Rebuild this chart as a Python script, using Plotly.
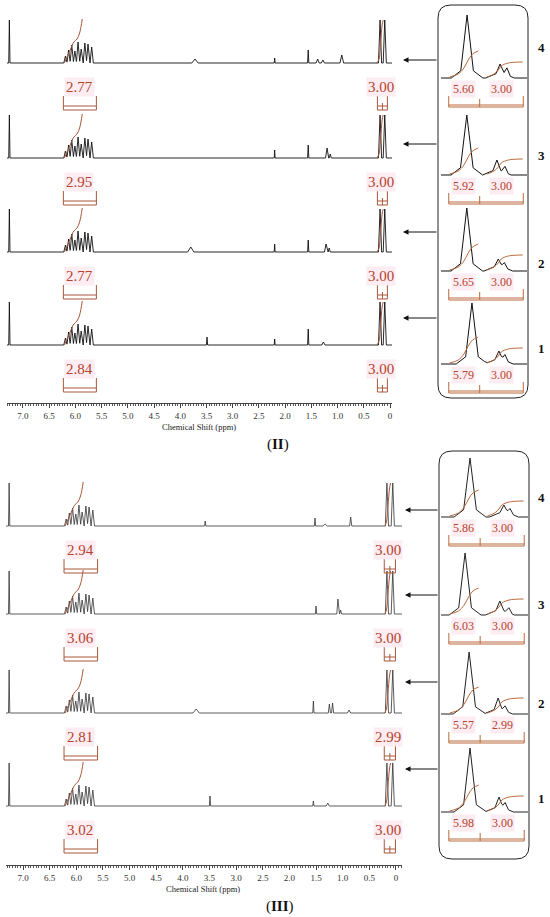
import plotly.graph_objects as go

W, H = 550, 917

# ---------------- data ----------------
tick_vals = [7.0, 6.5, 6.0, 5.5, 5.0, 4.5, 4.0, 3.5, 3.0, 2.5, 2.0, 1.5, 1.0, 0.5, 0.0]
tick_text = ['7.0', '6.5', '6.0', '5.5', '5.0', '4.5', '4.0', '3.5', '3.0', '2.5', '2.0', '1.5', '1.0', '0.5', '0']

spectrum_ids = ['1', '2', '3', '4']

# CDCl3 residual peak
solvent_ppm = 7.26
solvent_h = 43

# vinyl multiplet (6.2 - 5.65 ppm)
vinyl_ppm = [6.19, 6.13, 6.07, 6.01, 5.95, 5.89, 5.82, 5.76, 5.69]
vinyl_h = [7, 13, 18, 12, 21, 14, 20, 19, 16]

# Si-CH3 pair near 0 ppm
sime_ppm_II = [0.19, 0.10]
sime_ppm_III = [0.17, 0.06]
sime_h = 43

# other small peaks, spectra 1..4 (ppm, height, half width)
minor_II = [
    [(3.49, 8, 0.012), (2.20, 6, 0.008), (1.56, 16, 0.012), (1.27, 3, 0.03)],
    [(3.80, 5, 0.06), (2.20, 8, 0.008), (1.56, 12, 0.012), (1.22, 8, 0.03), (1.16, 4, 0.02)],
    [(2.20, 8, 0.008), (1.56, 13, 0.012), (1.20, 10, 0.03), (1.14, 4, 0.02)],
    [(3.72, 4, 0.06), (2.20, 5, 0.008), (1.56, 13, 0.012), (1.38, 4, 0.03), (1.28, 3, 0.03), (0.92, 8, 0.035)],
]
minor_III = [
    [(3.49, 10, 0.012), (1.55, 5, 0.012), (1.28, 3, 0.03)],
    [(3.75, 4, 0.06), (1.55, 12, 0.012), (1.25, 9, 0.02), (1.19, 10, 0.02), (0.88, 3, 0.03)],
    [(1.50, 8, 0.012), (1.09, 15, 0.02), (1.04, 4, 0.02)],
    [(3.58, 5, 0.012), (1.52, 8, 0.012), (1.33, 2, 0.04), (0.85, 9, 0.02)],
]

# main integrals
vinyl_int_II = ['2.84', '2.77', '2.95', '2.77']
sime_int_II = ['3.00', '3.00', '3.00', '3.00']
vinyl_int_III = ['3.02', '2.81', '3.06', '2.94']
sime_int_III = ['3.00', '2.99', '3.00', '3.00']

# integral curves (ppm, rise)
vinyl_curve_ppm = [6.21, 6.10, 6.03, 5.97, 5.92, 5.87]
vinyl_curve_h = [0, 13, 21, 24, 30, 44]
sime_curve_ppm_II = [0.25, 0.21, 0.18, 0.15, 0.13]
sime_curve_ppm_III = [0.21, 0.18, 0.15, 0.12, 0.10]
sime_curve_h = [0, 4, 20, 38, 43]

# expanded insets (0.30 - 0 ppm), spectra 1..4
inset_main_ppm_II = [0.192, 0.21, 0.21, 0.209]
inset_main_h_II = [61, 63, 60, 63]
inset_sec_ppm_II = [0.098, 0.100, 0.105, 0.094]
inset_sec_h_II = [13, 12, 15, 14]
inset_sh_ppm_II = [0.077, 0.079, 0.077, 0.070]
inset_sh_h_II = [6, 5, 6, 7]

inset_main_ppm_III = [0.200, 0.203, 0.217, 0.200]
inset_main_h_III = [64, 62, 62, 59]
inset_sec_ppm_III = [0.100, 0.103, 0.097, 0.083]
inset_sec_h_III = [15, 16, 14, 12]
inset_sh_ppm_III = [0.079, 0.079, 0.066, 0.062]
inset_sh_h_III = [6, 5, 5, 5]

inset_int_main_II = ['5.79', '5.65', '5.92', '5.60']
inset_int_sec_II = ['3.00', '3.00', '3.00', '3.00']
inset_int_main_III = ['5.98', '5.57', '6.03', '5.86']
inset_int_sec_III = ['3.00', '2.99', '3.00', '3.00']

inset_curve1_ppm = [0.27, 0.24, 0.22, 0.205, 0.19, 0.17]
inset_curve1_h = [0, 3, 9, 17, 23, 26]
inset_curve2_ppm = [0.14, 0.115, 0.10, 0.09, 0.065, 0.015]
inset_curve2_h = [0, 3, 7, 11, 14, 15]

# ---------------- layout positions (px) ----------------
base_II = [345, 252, 158, 63]
base_III = [806, 713, 614, 526]
inset_base_II = [364, 271, 175, 78]
inset_base_III = [812, 714, 615, 517]
arrow_y_II = [318, 232, 144, 60]
arrow_y_III = [769, 682, 595, 510]
num_y_II = [348, 263, 155, 47]
num_y_III = [798, 703, 604, 497]

SERIF = 'Liberation Serif'
RED = '#b4442c'
BROWN = '#a9573a'
ORANGE = '#bb6a3c'
PINK = 'rgba(252,228,237,0.7)'


def px_x(x):
    return x / W


def px_y(y):
    return 1 - y / H


def tri_spectrum(lo, hi, peaks):
    xs = {lo, hi}
    for p, h, w in peaks:
        for v in (p - w, p, p + w):
            if lo <= v <= hi:
                xs.add(v)
    xs = sorted(xs, reverse=True)
    ys = [sum(h * max(0.0, 1 - abs(x - p) / w) for p, h, w in peaks) for x in xs]
    return xs, ys


fig = go.Figure()
annots = []
shapes = []


def label(x, y, text, size, color, xref='paper', yref='paper', bg=None):
    d = dict(x=x, y=y, xref=xref, yref=yref, text=text, showarrow=False,
             xanchor='center', yanchor='middle', font=dict(family=SERIF, size=size, color=color))
    if bg:
        d['bgcolor'] = bg
    annots.append(d)


def add_main_panel(xa, ya, bases, sime_ppm, minors, vint, sint, curve_sime, lcolor, lw):
    brx, bry = [], []
    for i in range(4):
        b = bases[i]
        peaks = [(solvent_ppm, solvent_h, 0.012)]
        peaks += [(p, h, 0.032) for p, h in zip(vinyl_ppm, vinyl_h)]
        peaks += [(p, sime_h, 0.03) for p in sime_ppm]
        peaks += minors[i]
        xs, ys = tri_spectrum(-0.2, 7.5, peaks)
        fig.add_trace(go.Scatter(x=xs, y=[b - v for v in ys], mode='lines',
                                 line=dict(color=lcolor, width=lw), xaxis=xa, yaxis=ya,
                                 hoverinfo='skip'))
        # integral curves
        for cx, ch in ((vinyl_curve_ppm, vinyl_curve_h), (curve_sime, sime_curve_h)):
            fig.add_trace(go.Scatter(x=cx, y=[b - v for v in ch], mode='lines',
                                     line=dict(color=BROWN, width=1, shape='spline'),
                                     xaxis=xa, yaxis=ya, hoverinfo='skip'))
        # brackets
        l, r = 6.23, 5.60
        brx += [l, l, r, r, None, l, r, None]
        bry += [b + 33, b + 47, b + 47, b + 33, None, b + 43, b + 43, None]
        l, r, m = sime_ppm[0] + 0.05, sime_ppm[1] - 0.05, (sime_ppm[0] + sime_ppm[1]) / 2
        brx += [l, l, r, r, None, l, r, None, m, m, None]
        bry += [b + 33, b + 47, b + 47, b + 33, None, b + 43, b + 43, None, b + 40, b + 47, None]
        label(5.93, b + 24, vint[i], 15, RED, xa, ya, PINK)
        label(sum(sime_ppm) / 2 + 0.03, b + 24, sint[i], 15, RED, xa, ya, PINK)
    fig.add_trace(go.Scatter(x=brx, y=bry, mode='lines', line=dict(color=BROWN, width=1),
                             xaxis=xa, yaxis=ya, hoverinfo='skip'))


def add_insets(xa, ya, bases, mp, mh, sp, sh, hp, hh, lab1, lab2, lcolor):
    brx, bry = [], []
    for i in range(4):
        b = bases[i]
        peaks = [(mp[i], mh[i] - 12, 0.022), (mp[i], 12, 0.055),
                 (sp[i], sh[i] - 6, 0.014), (sp[i], 6, 0.05),
                 (hp[i], hh[i], 0.012)]
        xs, ys = tri_spectrum(0.0, 0.30, peaks)
        fig.add_trace(go.Scatter(x=xs, y=[b - v for v in ys], mode='lines',
                                 line=dict(color=lcolor, width=1), xaxis=xa, yaxis=ya,
                                 hoverinfo='skip'))
        for cx, ch in ((inset_curve1_ppm, inset_curve1_h), (inset_curve2_ppm, inset_curve2_h)):
            fig.add_trace(go.Scatter(x=cx, y=[b - 1 - v for v in ch], mode='lines',
                                     line=dict(color=ORANGE, width=1, shape='spline'),
                                     xaxis=xa, yaxis=ya, hoverinfo='skip'))
        l, r, m = 0.273, 0.013, 0.165
        brx += [l, l, r, r, None, l, r, None, m, m, None]
        bry += [b + 18, b + 29, b + 29, b + 18, None, b + 27, b + 27, None, b + 21, b + 29, None]
        label(0.222, b + 11, lab1[i], 12, RED, xa, ya, PINK)
        label(0.088, b + 11, lab2[i], 12, RED, xa, ya, PINK)
    fig.add_trace(go.Scatter(x=brx, y=bry, mode='lines', line=dict(color=ORANGE, width=1),
                             xaxis=xa, yaxis=ya, hoverinfo='skip'))


add_main_panel('x', 'y', base_II, sime_ppm_II, minor_II, vinyl_int_II, sime_int_II,
               sime_curve_ppm_II, '#111', 0.9)
add_main_panel('x2', 'y2', base_III, sime_ppm_III, minor_III, vinyl_int_III, sime_int_III,
               sime_curve_ppm_III, '#333', 0.8)
add_insets('x3', 'y', inset_base_II, inset_main_ppm_II, inset_main_h_II, inset_sec_ppm_II,
           inset_sec_h_II, inset_sh_ppm_II, inset_sh_h_II, inset_int_main_II, inset_int_sec_II, '#111')
add_insets('x4', 'y2', inset_base_III, inset_main_ppm_III, inset_main_h_III, inset_sec_ppm_III,
           inset_sec_h_III, inset_sh_ppm_III, inset_sh_h_III, inset_int_main_III, inset_int_sec_III, '#222')


def rounded_box(x0, y0, x1, y1, r=13):
    rx, ry = r / W, r / H
    a, b_, c, d = px_x(x0), px_y(y0), px_x(x1), px_y(y1)
    path = (f'M {a + rx},{b_} L {c - rx},{b_} Q {c},{b_} {c},{b_ - ry} '
            f'L {c},{d + ry} Q {c},{d} {c - rx},{d} L {a + rx},{d} Q {a},{d} {a},{d + ry} '
            f'L {a},{b_ - ry} Q {a},{b_} {a + rx},{b_} Z')
    return dict(type='path', xref='paper', yref='paper', path=path,
                line=dict(color='#222', width=1))


shapes.append(rounded_box(438, 5, 528, 398))
shapes.append(rounded_box(439, 451, 529, 859))

for ys, tip, tail in ((arrow_y_II, 403, 438), (arrow_y_III, 405, 439)):
    for y in ys:
        annots.append(dict(x=px_x(tip), y=px_y(y), xref='paper', yref='paper', text='',
                           showarrow=True, ax=tail - tip, ay=0, axref='pixel', ayref='pixel',
                           arrowhead=2, arrowsize=1.1, arrowwidth=1, arrowcolor='#111'))

for ys in (num_y_II, num_y_III):
    for sid, y in zip(spectrum_ids, ys):
        label(px_x(541), px_y(y), f'<b>{sid}</b>', 13, '#111')

label(px_x(199), px_y(427), 'Chemical Shift (ppm)', 8.5, '#222')
label(px_x(203), px_y(889), 'Chemical Shift (ppm)', 8.5, '#222')
label(px_x(278), px_y(445), '(<b>II</b>)', 15, '#111')
label(px_x(280), px_y(906), '(<b>III</b>)', 15, '#111')

axis_style = dict(showline=True, linecolor='#444', linewidth=1, ticks='outside', ticklen=4,
                  tickcolor='#444', tickvals=tick_vals, ticktext=tick_text, showgrid=False,
                  zeroline=False, tickfont=dict(family=SERIF, size=9, color='#333'),
                  minor=dict(ticks='outside', ticklen=2, dtick=0.05, tick0=0, tickcolor='#555',
                             showgrid=False))

fig.update_layout(
    width=W, height=H, margin=dict(l=0, r=0, t=0, b=0),
    paper_bgcolor='white', plot_bgcolor='rgba(0,0,0,0)', showlegend=False,
    xaxis=dict(domain=[px_x(7), px_x(392)], range=[7.305, -0.038], anchor='y', **axis_style),
    yaxis=dict(domain=[px_y(403), 1], range=[403, 0], visible=False),
    xaxis2=dict(domain=[px_x(6), px_x(402)], range=[7.319, -0.113], anchor='y2', **axis_style),
    yaxis2=dict(domain=[px_y(865), px_y(440)], range=[865, 440], visible=False),
    xaxis3=dict(domain=[px_x(441), px_x(527)], range=[0.30, 0.0], anchor='y', visible=False),
    xaxis4=dict(domain=[px_x(441), px_x(528)], range=[0.30, 0.0], anchor='y2', visible=False),
    annotations=annots, shapes=shapes,
)

# body margin would push the 550x917 figure off the window
fig.write_html('out.html', config={'displayModeBar': False},
               post_script="document.body.style.margin='0';")
